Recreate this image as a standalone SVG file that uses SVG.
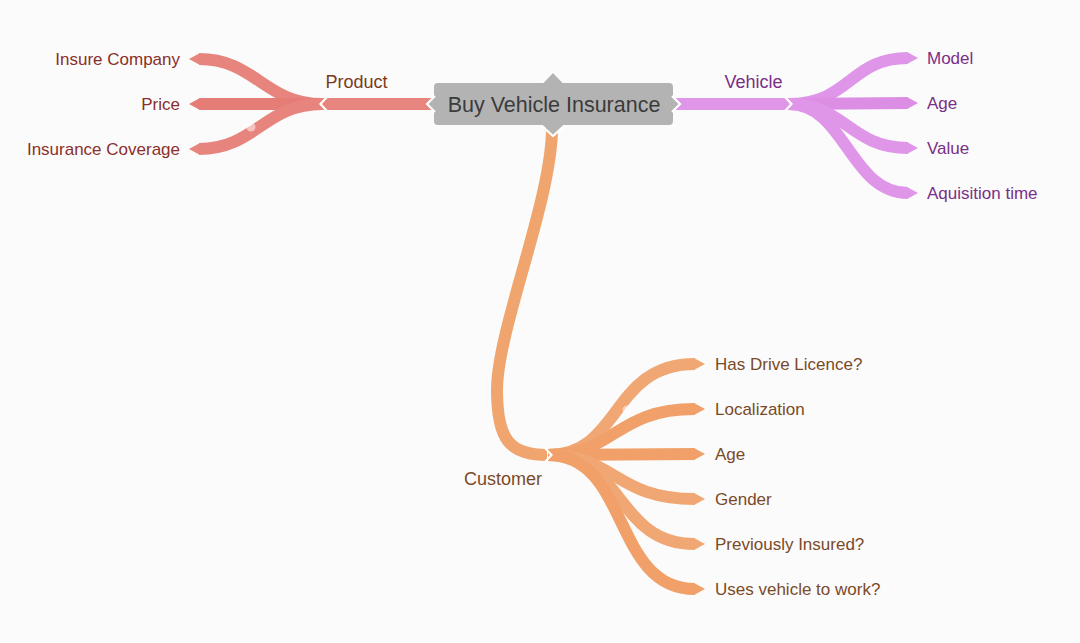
<svg xmlns="http://www.w3.org/2000/svg" width="1080" height="643" viewBox="0 0 1080 643">
<style>
.t{font-family:"Liberation Sans",Arial,sans-serif;font-size:17px}
.b{font-family:"Liberation Sans",Arial,sans-serif;font-size:18px}
.br{fill:none;stroke-width:12;stroke-linecap:butt}
.red{stroke:#e8847e}
.pur{stroke:#e096e8}
.org{stroke:#f0a56f}
.chev{fill:none;stroke:#ffffff;stroke-width:2.2;stroke-linejoin:miter}
.lr{fill:#8a2f2a}
.lp{fill:#7a2f88}
.lo{fill:#7a4a28}
</style>
<rect width="1080" height="643" fill="#fbfbfb"/>
<g id="connectors">
  <!-- Product -->
  <path class="br red" d="M322,104 C265,104 255,59 199,59"/>
  <path class="br red" d="M322,104 L199,104" style="stroke:#e57c76"/>
  <path class="br red" d="M322,104 C265,104 255,149 199,149"/>
  <polygon fill="#e8847e" points="200,53 189,59 200,65"/>
  <polygon fill="#e57c76" points="200,98 189,104 200,110"/>
  <polygon fill="#e8847e" points="200,143 189,149 200,155"/>
  <path class="br red" d="M321,104 L436,104"/>
  <polyline class="chev" points="327,97 320.5,104 327,111"/>
  <circle cx="251" cy="127" r="4.5" fill="#ffffff" fill-opacity="0.5"/>
  <!-- Vehicle -->
  <path class="br pur" d="M672,104 L792,104"/>
  <path class="br pur" d="M789,104 C850,104 850,58 908,58"/>
  <path class="br pur" d="M789,104 L908,103" style="stroke:#dc8ee4"/>
  <path class="br pur" d="M789,104 C845,104 850,148 908,148"/>
  <path class="br pur" d="M789,104 C845,104 850,193 908,193"/>
  <polygon fill="#e096e8" points="907,52 918,58 907,64"/>
  <polygon fill="#dc8ee4" points="907,97 918,103 907,109"/>
  <polygon fill="#e096e8" points="907,142 918,148 907,154"/>
  <polygon fill="#e096e8" points="907,187 918,193 907,199"/>
  <polyline class="chev" points="785,97 791.5,104 785,111"/>
  <!-- Customer -->
  <path class="br org" d="M552,128 C552,200 497,330 497,390 C497,440 510,455 547,455"/>
  <path class="br org" d="M548,455 C622,455 610,364 695,364" style="stroke:#f0a773"/>
  <path class="br org" d="M548,455 C615,455 615,409 695,409" style="stroke:#f0a068"/>
  <path class="br org" d="M548,455 L695,454" style="stroke:#f0a068"/>
  <path class="br org" d="M548,455 C615,455 615,499 695,499" style="stroke:#f0a773"/>
  <path class="br org" d="M548,455 C625,455 615,544 695,544" style="stroke:#f0a773"/>
  <path class="br org" d="M548,455 C630,455 612,589 695,589" style="stroke:#f0a068"/>
  <polygon fill="#f0a773" points="694,358 705,364 694,370"/>
  <polygon fill="#f0a068" points="694,403 705,409 694,415"/>
  <polygon fill="#f0a068" points="694,448 705,454 694,460"/>
  <polygon fill="#f0a773" points="694,493 705,499 694,505"/>
  <polygon fill="#f0a773" points="694,538 705,544 694,550"/>
  <polygon fill="#f0a068" points="694,583 705,589 694,595"/>
  <polyline class="chev" points="545,448 551.5,455 545,462"/>
  <circle cx="627" cy="410" r="4.5" fill="#ffffff" fill-opacity="0.5"/>
</g>
<g id="root">
  <rect x="434" y="83" width="239" height="42" rx="4" fill="#b3b3b3"/>
  <polygon points="543,83.5 553,73 563,83.5" fill="#b3b3b3"/>
  <polygon points="435,96 427,104 435,112" fill="#b3b3b3"/>
  <polyline class="chev" points="435,96 427,104 435,112"/>
  <polygon points="672,96 680,104 672,112" fill="#b3b3b3"/>
  <polyline class="chev" points="672,96 680,104 672,112"/>
  <polygon points="542,124.5 553,135 564,124.5" fill="#b3b3b3"/>
  <polyline class="chev" points="542,126 553,136 564,126"/>
  <text x="554" y="111.5" text-anchor="middle" font-family="Liberation Sans,Arial,sans-serif" font-size="21.5" fill="#3b3b3b">Buy Vehicle Insurance</text>
</g>
<g id="product">
  <text class="b" x="356.5" y="87.5" text-anchor="middle" fill="#7a3a22">Product</text>
</g>
<g id="product-leaves">
  <text class="t lr" x="180" y="65" text-anchor="end">Insure Company</text>
  <text class="t lr" x="180" y="110" text-anchor="end">Price</text>
  <text class="t lr" x="180" y="155" text-anchor="end">Insurance Coverage</text>
</g>
<g id="vehicle">
  <text class="b lp" x="753.5" y="87.5" text-anchor="middle">Vehicle</text>
</g>
<g id="vehicle-leaves">
  <text class="t lp" x="927" y="64">Model</text>
  <text class="t lp" x="927" y="109">Age</text>
  <text class="t lp" x="927" y="154">Value</text>
  <text class="t lp" x="927" y="199">Aquisition time</text>
</g>
<g id="customer">
  <text class="b lo" x="503" y="484.5" text-anchor="middle">Customer</text>
</g>
<g id="customer-leaves">
  <text class="t lo" x="715" y="370">Has Drive Licence?</text>
  <text class="t lo" x="715" y="415">Localization</text>
  <text class="t lo" x="715" y="460">Age</text>
  <text class="t lo" x="715" y="505">Gender</text>
  <text class="t lo" x="715" y="550">Previously Insured?</text>
  <text class="t lo" x="715" y="595">Uses vehicle to work?</text>
</g>
</svg>
